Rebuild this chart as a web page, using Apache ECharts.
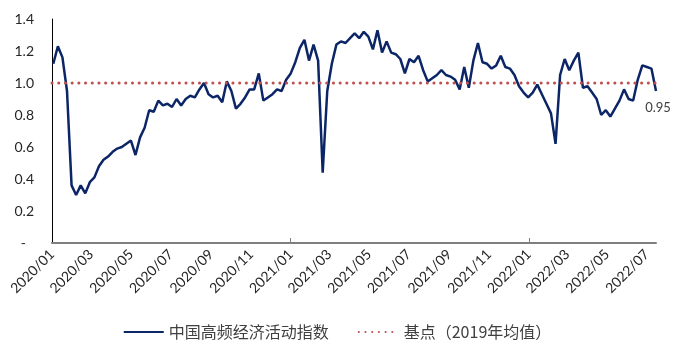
<!DOCTYPE html>
<html>
<head>
<meta charset="utf-8">
<script src="https://cdn.jsdelivr.net/npm/echarts@6/dist/echarts.min.js"></script>
<style>
  html, body { margin: 0; padding: 0; background: #fff; }
  #chart { width: 674px; height: 352px; }
</style>
</head>
<body>
<div id="chart"></div>
<script>
// weekly index values, first week ending 2020-01-03
var firstWeek = Date.UTC(2020, 0, 3);
var indexValues = [
  1.12, 1.23, 1.16, 0.95, 0.36, 0.30, 0.36, 0.31, 0.38, 0.41,
  0.48, 0.52, 0.54, 0.57, 0.59, 0.60, 0.62, 0.64, 0.55, 0.66,
  0.72, 0.83, 0.82, 0.89, 0.86, 0.87, 0.85, 0.90, 0.86, 0.90,
  0.92, 0.91, 0.96, 1.00, 0.93, 0.91, 0.92, 0.88, 1.01, 0.95,
  0.84, 0.87, 0.91, 0.96, 0.96, 1.06, 0.89, 0.91, 0.93, 0.96,
  0.95, 1.02, 1.06, 1.13, 1.22, 1.27, 1.14, 1.24, 1.14, 0.44,
  0.95, 1.12, 1.24, 1.26, 1.25, 1.28, 1.31, 1.28, 1.32, 1.29,
  1.21, 1.33, 1.19, 1.26, 1.19, 1.18, 1.15, 1.06, 1.15, 1.13,
  1.17, 1.08, 1.01, 1.03, 1.05, 1.08, 1.05, 1.04, 1.02, 0.96,
  1.10, 0.97, 1.14, 1.25, 1.13, 1.12, 1.09, 1.11, 1.17, 1.10,
  1.09, 1.05, 0.98, 0.94, 0.91, 0.94, 0.99, 0.93, 0.87, 0.81,
  0.62, 1.05, 1.15, 1.08, 1.14, 1.19, 0.97, 0.98, 0.94, 0.90,
  0.80, 0.83, 0.79, 0.84, 0.89, 0.96, 0.90, 0.89, 1.02, 1.11,
  1.10, 1.09, 0.95
];
var baseValue = 1.0;
var tickLabels = [
  '2020/01', '2020/03', '2020/05', '2020/07', '2020/09', '2020/11',
  '2021/01', '2021/03', '2021/05', '2021/07', '2021/09', '2021/11',
  '2022/01', '2022/03', '2022/05', '2022/07'
];
var yearTicks = ['2021/01', '2022/01'];
var seriesNames = ['中国高频经济活动指数', '基点（2019年均值）'];

var DAY = 24 * 3600 * 1000;
function monthTime(s) {
  var p = s.split('/');
  return Date.UTC(+p[0], +p[1] - 1, 1);
}
var xMin = monthTime('2020/01');
var xMax = firstWeek + (indexValues.length - 1) * 7 * DAY;

var lineData = indexValues.map(function (v, i) {
  return [firstWeek + i * 7 * DAY, v];
});
var baseData = [[xMin, baseValue], [xMax, baseValue]];
var labelTimes = tickLabels.map(monthTime);
var labelMap = {};
tickLabels.forEach(function (s, i) { labelMap[labelTimes[i]] = s; });

var chart = echarts.init(document.getElementById('chart'));
var numFont = 'Lato, "Noto Sans", sans-serif';
var option = {
  animation: false,
  grid: { left: 52, right: 18, top: 19, bottom: 109 },
  legend: {
    top: 319,
    left: 'center',
    itemWidth: 40,
    itemHeight: 14,
    itemGap: 29,
    itemStyle: { opacity: 0 },
    textStyle: { fontFamily: '"Noto Sans CJK SC", sans-serif', fontSize: 16, color: '#404040' },
    data: seriesNames
  },
  xAxis: {
    type: 'value',
    min: xMin,
    max: xMax,
    splitLine: { show: false },
    axisLine: { show: true, lineStyle: { color: '#7f7f7f', width: 2 } },
    axisTick: {
      show: true,
      inside: true,
      length: 5,
      customValues: yearTicks.map(monthTime),
      lineStyle: { color: '#7f7f7f', width: 1 }
    },
    axisLabel: {
      rotate: 45,
      margin: 9,
      fontFamily: numFont,
      fontSize: 14,
      color: '#262626',
      customValues: labelTimes,
      formatter: function (v) { return labelMap[v] || ''; }
    }
  },
  yAxis: {
    type: 'value',
    min: 0,
    max: 1.4,
    interval: 0.2,
    splitLine: { show: false },
    axisLine: { show: true, lineStyle: { color: '#000', width: 1 } },
    axisTick: { show: false },
    axisLabel: {
      margin: 18,
      fontFamily: numFont,
      fontSize: 14,
      color: '#262626',
      formatter: function (v) {
        return v === 0 ? '{d|-}' : v.toFixed(1);
      },
      rich: { d: { fontFamily: numFont, fontSize: 14, color: '#262626', padding: [0, 8, 0, 0] } }
    }
  },
  series: [
    {
      name: seriesNames[0],
      type: 'line',
      data: lineData,
      showSymbol: false,
      symbol: 'none',
      lineStyle: { color: '#0b2566', width: 2.5 },
      itemStyle: { color: '#0b2566' },
      endLabel: {
        show: true,
        distance: 0,
        align: 'center',
        verticalAlign: 'middle',
        offset: [2, 17],
        fontFamily: numFont,
        fontSize: 13,
        color: '#404040',
        formatter: function (p) { return p.value[1].toFixed(2); }
      }
    },
    {
      name: seriesNames[1],
      type: 'line',
      data: baseData,
      showSymbol: false,
      symbol: 'none',
      lineStyle: { color: '#c0504d', width: 3, type: [0.1, 6.6], cap: 'round' },
      itemStyle: { color: '#c0504d' }
    }
  ]
};
chart.setOption(option);
</script>
</body>
</html>
